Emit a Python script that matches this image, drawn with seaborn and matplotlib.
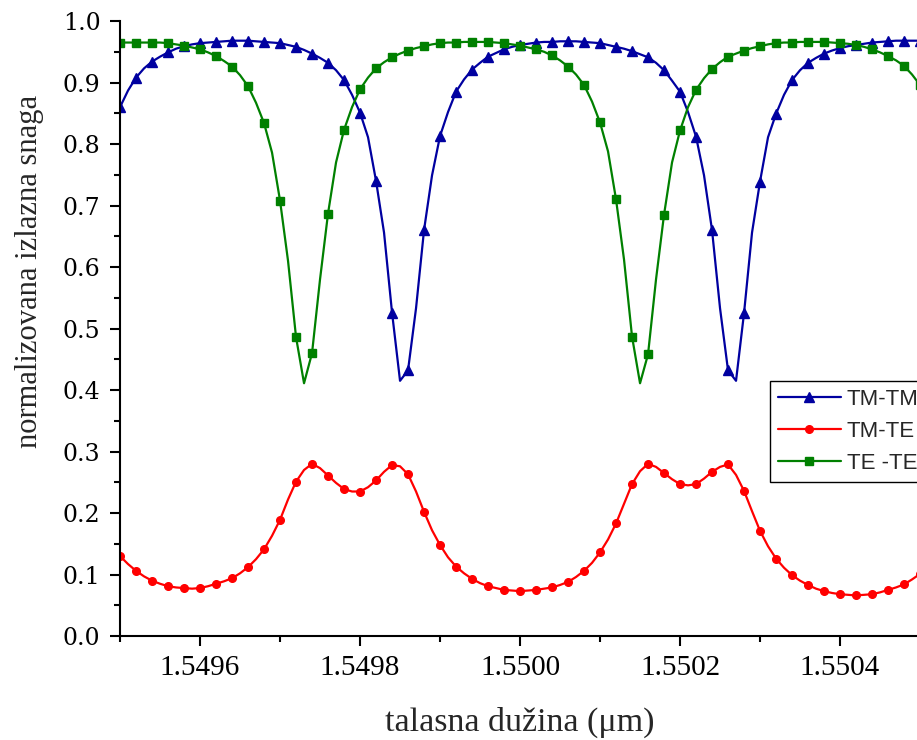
import numpy as np
import pandas as pd
import matplotlib
matplotlib.use("Agg")
import matplotlib.pyplot as plt
import seaborn as sns
from matplotlib.ticker import MultipleLocator, FormatStrFormatter

# wavelength samples in um; a marker sits on every second sample
wavelength = np.linspace(1.5495, 1.5505, 101)

tm_tm = [0.860, 0.887, 0.908, 0.923, 0.934, 0.942, 0.949, 0.955, 0.959, 0.962,
         0.964, 0.965, 0.966, 0.967, 0.968, 0.968, 0.968, 0.967, 0.966, 0.965,
         0.964, 0.961, 0.958, 0.953, 0.947, 0.940, 0.932, 0.920, 0.904, 0.880,
         0.851, 0.811, 0.740, 0.656, 0.526, 0.415, 0.432, 0.533, 0.660, 0.749,
         0.813, 0.852, 0.885, 0.905, 0.921, 0.932, 0.942, 0.948, 0.954, 0.958,
         0.961, 0.963, 0.965, 0.966, 0.966, 0.967, 0.967, 0.967, 0.966, 0.965,
         0.964, 0.961, 0.958, 0.955, 0.951, 0.946, 0.941, 0.932, 0.920, 0.903,
         0.885, 0.852, 0.812, 0.749, 0.660, 0.533, 0.432, 0.415, 0.525, 0.656,
         0.739, 0.811, 0.849, 0.880, 0.904, 0.920, 0.932, 0.940, 0.947, 0.952,
         0.956, 0.959, 0.961, 0.963, 0.965, 0.966, 0.967, 0.968, 0.968, 0.968,
         0.968]

tm_te = [0.130, 0.117, 0.106, 0.097, 0.090, 0.085, 0.081, 0.079, 0.078, 0.077,
         0.078, 0.081, 0.085, 0.089, 0.094, 0.102, 0.112, 0.125, 0.141, 0.163,
         0.189, 0.222, 0.251, 0.270, 0.280, 0.273, 0.261, 0.249, 0.239, 0.235,
         0.235, 0.242, 0.253, 0.267, 0.278, 0.276, 0.263, 0.235, 0.202, 0.172,
         0.148, 0.128, 0.113, 0.102, 0.093, 0.086, 0.081, 0.078, 0.075, 0.074,
         0.073, 0.074, 0.075, 0.077, 0.079, 0.083, 0.088, 0.096, 0.106, 0.119,
         0.136, 0.157, 0.183, 0.215, 0.247, 0.268, 0.280, 0.275, 0.265, 0.255,
         0.247, 0.245, 0.247, 0.256, 0.267, 0.275, 0.279, 0.262, 0.236, 0.203,
         0.171, 0.146, 0.126, 0.111, 0.099, 0.090, 0.083, 0.077, 0.073, 0.070,
         0.068, 0.067, 0.066, 0.067, 0.068, 0.071, 0.075, 0.079, 0.084, 0.092,
         0.101]

te_te = [0.965, 0.965, 0.965, 0.965, 0.965, 0.965, 0.964, 0.962, 0.960, 0.957,
         0.954, 0.949, 0.943, 0.935, 0.926, 0.912, 0.894, 0.867, 0.834, 0.786,
         0.708, 0.610, 0.486, 0.411, 0.460, 0.580, 0.687, 0.770, 0.823, 0.860,
         0.889, 0.908, 0.923, 0.933, 0.941, 0.947, 0.952, 0.956, 0.959, 0.962,
         0.964, 0.965, 0.965, 0.966, 0.966, 0.966, 0.966, 0.965, 0.964, 0.962,
         0.960, 0.957, 0.954, 0.950, 0.944, 0.936, 0.926, 0.913, 0.896, 0.869,
         0.835, 0.788, 0.710, 0.612, 0.487, 0.411, 0.458, 0.580, 0.685, 0.770,
         0.822, 0.860, 0.888, 0.907, 0.922, 0.933, 0.942, 0.947, 0.952, 0.956,
         0.959, 0.962, 0.964, 0.965, 0.965, 0.966, 0.966, 0.966, 0.966, 0.965,
         0.964, 0.963, 0.961, 0.958, 0.954, 0.949, 0.943, 0.936, 0.927, 0.913,
         0.896]

labels = ["TM-TM", "TM-TE", "TE -TE"]
colors = ["#0000a0", "#ff0000", "#008000"]
markers = ["^", "o", "s"]
marker_sizes = [7.5, 5.5, 5.5]

sns.set_style("ticks")
plt.rcParams["font.family"] = ["Liberation Serif", "DejaVu Serif"]

fig = plt.figure(figsize=(9.17, 7.4), dpi=100)
ax = fig.add_axes([0.1309, 0.1405, 0.8724, 0.8311])

for values, label, color, marker, ms in zip([tm_tm, tm_te, te_te], labels, colors, markers, marker_sizes):
    df = pd.DataFrame({"wl": wavelength, "p": values})
    sns.lineplot(data=df, x="wl", y="p", ax=ax, color=color, linewidth=1.6,
                 marker=marker, markersize=ms, markevery=2,
                 markeredgecolor=color, markeredgewidth=1.0,
                 label=label, errorbar=None, sort=False)

ax.set_xlim(1.5495, 1.5505)
ax.set_ylim(0.0, 1.0)
ax.xaxis.set_major_locator(MultipleLocator(0.0002))
ax.xaxis.set_minor_locator(MultipleLocator(0.0001))
ax.xaxis.set_major_formatter(FormatStrFormatter("%.4f"))
ax.yaxis.set_major_locator(MultipleLocator(0.1))
ax.yaxis.set_minor_locator(MultipleLocator(0.05))
ax.yaxis.set_major_formatter(FormatStrFormatter("%.1f"))

for side in ["top", "right"]:
    ax.spines[side].set_visible(False)
for side in ["left", "bottom"]:
    ax.spines[side].set_linewidth(1.5)
    ax.spines[side].set_color("black")

ax.tick_params(which="major", direction="out", length=7, width=1.5, colors="black")
ax.tick_params(which="minor", direction="out", length=4, width=1.5, colors="black")
ax.tick_params(axis="y", which="major", pad=7, labelsize=17)
ax.tick_params(axis="x", which="major", pad=7, labelsize=21)
for t in ax.get_yticklabels():
    t.set_family("DejaVu Serif")

ax.set_xlabel("talasna dužina (μm)", fontsize=24.5, labelpad=18)
ax.set_ylabel("normalizovana izlazna snaga", fontsize=22)
ax.yaxis.set_label_coords(-0.095, 0.593)

leg = ax.legend(loc="upper left", bbox_to_anchor=(0.8125, 0.4146), borderaxespad=0,
                frameon=True, fancybox=False, edgecolor="black", framealpha=1,
                handlelength=2.85, handletextpad=0.25, labelspacing=0.5, borderpad=0.35,
                prop={"family": "Liberation Sans", "size": 16})
leg.get_frame().set_linewidth(1.0)

fig.savefig("out.png", dpi=100)
